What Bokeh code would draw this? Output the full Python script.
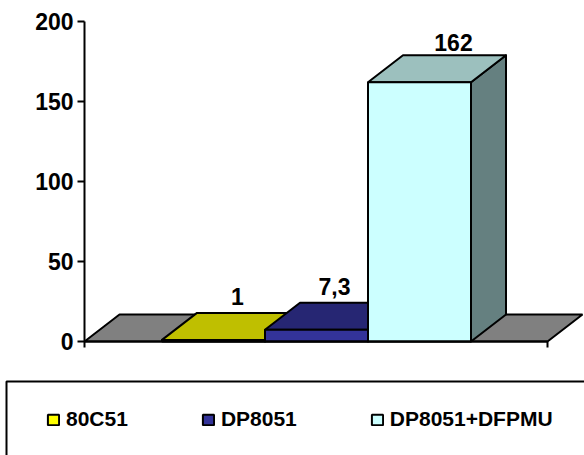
from bokeh.plotting import figure
from bokeh.models import LinearAxis, FixedTicker, BoxAnnotation, Legend, LegendItem, ColumnDataSource
from bokeh.core.properties import value
from bokeh.embed import file_html
from bokeh.resources import INLINE

categories = ["80C51", "DP8051", "DP8051+DFPMU"]
values = [1, 7.3, 162]
value_labels = ["1", "7,3", "162"]
y_ticks = [0, 50, 100, 150, 200]
front_colors = ["#FFFF00", "#333399", "#CCFFFF"]
top_colors = ["#BFBF00", "#262673", "#9CC0BE"]
side_colors = ["#7F7F00", "#1A1A4D", "#658080"]
FLOOR = "#808080"
FONT = "Liberation Sans"

# layout constants: pixel-to-data geometry
PX_X, PX_Y = 103.0, 1.6            # px per bar slot / px per value unit
X_ORIGIN, Y_ORIGIN = 161.5, 341.0  # page px of slot 0 left and of value 0
W, H = 584, 455
dx, dy = 35 / PX_X, 27 / PX_Y      # 3-D depth
x_of = lambda px: (px - X_ORIGIN) / PX_X
y_of = lambda px: (Y_ORIGIN - px) / PX_Y
ax_l, ax_r = x_of(84), x_of(547)

p = figure(width=W, height=H, output_backend="svg", toolbar_location=None,
           x_range=(x_of(0), x_of(W)), y_range=(y_of(H), y_of(0)),
           x_axis_type=None, y_axis_type=None, min_border=0,
           outline_line_color=None)
p.grid.visible = False

# floor
p.patch([ax_l, ax_r, ax_r + dx, ax_l + dx], [0, 0, dy, dy],
        fill_color=FLOOR, line_color="black", line_width=2)

front_renderers = []
for i, v in enumerate(values):
    l, r = i, i + 1
    p.patch([r, r + dx, r + dx, r], [0, dy, v + dy, v],
            fill_color=side_colors[i], line_color="black", line_width=2, line_join="round")
    p.patch([l, r, r + dx, l + dx], [v, v, v + dy, v + dy],
            fill_color=top_colors[i], line_color="black", line_width=2, line_join="round")
    front_renderers.append(
        p.quad(left=l, right=r, bottom=0, top=v, fill_color=front_colors[i],
               line_color="black", line_width=2))

# axes
ya = LinearAxis(fixed_location=ax_l, bounds=(0, 200), ticker=FixedTicker(ticks=y_ticks))
ya.major_tick_out = 7
ya.major_tick_in = 0
ya.minor_tick_out = 0
ya.minor_tick_in = 0
ya.axis_line_width = 2
ya.major_tick_line_width = 2
ya.major_label_text_font = FONT
ya.major_label_text_font_style = "bold"
ya.major_label_text_font_size = "23px"
ya.major_label_text_color = "black"
ya.major_label_standoff = 4
p.add_layout(ya, "left")

xa = LinearAxis(fixed_location=0, bounds=(ax_l, ax_r), ticker=FixedTicker(ticks=[ax_l, ax_r]))
xa.major_tick_out = 6
xa.major_tick_in = 0
xa.minor_tick_out = 0
xa.minor_tick_in = 0
xa.axis_line_width = 2
xa.major_tick_line_width = 2
xa.major_label_text_font_size = "0px"
xa.major_label_text_color = None
p.add_layout(xa, "below")

# value labels
label_dx = [24 / PX_X, 18 / PX_X, 34 / PX_X]
label_dy = [16 / PX_Y, 16 / PX_Y, 13 / PX_Y]
src = ColumnDataSource(dict(
    x=[i + 0.5 + label_dx[i] for i in range(3)],
    y=[v + dy + label_dy[i] for i, v in enumerate(values)],
    t=value_labels))
p.text(x="x", y="y", text="t", source=src, text_align="center", text_baseline="alphabetic",
       text_font=value(FONT), text_font_style="bold", text_font_size="23px", text_color="black")

# legend frame (runs off the page on the right and bottom, as in the source)
p.add_layout(BoxAnnotation(left=x_of(6), right=x_of(700), top=y_of(381), bottom=y_of(700),
                           fill_color=None, line_color="black", line_width=2, line_alpha=1))

legend = Legend(items=[LegendItem(label=c, renderers=[r]) for c, r in zip(categories, front_renderers)],
                orientation="horizontal", location=(46, 24),
                glyph_width=14, glyph_height=13, label_standoff=6, spacing=73, padding=0, margin=0,
                border_line_color=None, background_fill_color=None, background_fill_alpha=0,
                label_text_font=FONT, label_text_font_style="bold", label_text_font_size="21px",
                label_text_color="black")
p.add_layout(legend, "center")

open("out.html", "w").write(file_html(p, INLINE))
